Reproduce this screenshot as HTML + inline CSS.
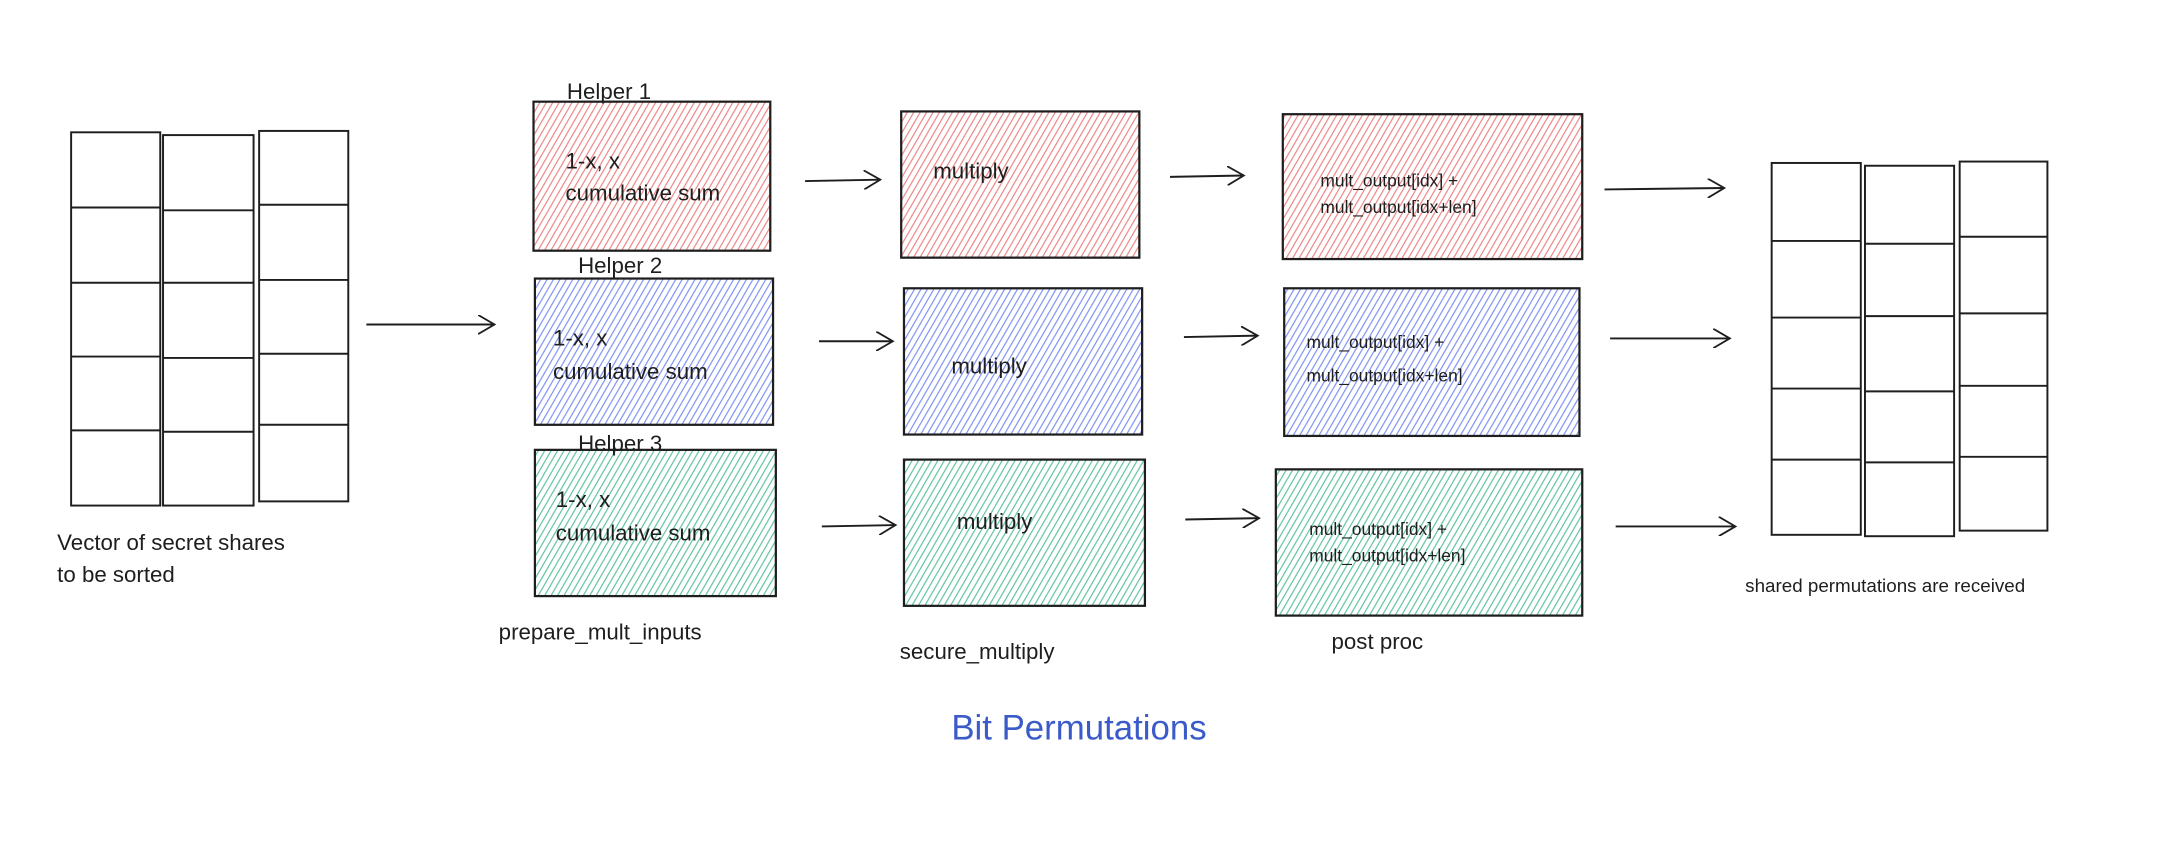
<!DOCTYPE html>
<html><head><meta charset="utf-8"><style>
html,body{margin:0;padding:0;background:#fff;}
svg{display:block}
text{font-family:"Liberation Sans",sans-serif;fill:#1e1e1e}
</style></head><body>
<svg width="2184" height="844" viewBox="0 0 1568 606" xmlns="http://www.w3.org/2000/svg">
<defs>
<pattern id="hr" width="4" height="4" patternUnits="userSpaceOnUse" patternTransform="rotate(30)"><line x1="0" y1="0" x2="0" y2="4" stroke="#ec8585" stroke-width="1.7"/></pattern>
<pattern id="hb" width="4" height="4" patternUnits="userSpaceOnUse" patternTransform="rotate(30)"><line x1="0" y1="0" x2="0" y2="4" stroke="#7d91f2" stroke-width="1.7"/></pattern>
<pattern id="hg" width="4" height="4" patternUnits="userSpaceOnUse" patternTransform="rotate(30)"><line x1="0" y1="0" x2="0" y2="4" stroke="#5fc39d" stroke-width="1.7"/></pattern>
<marker id="ah" markerWidth="14" markerHeight="14" refX="12" refY="7" orient="auto" markerUnits="userSpaceOnUse"><path d="M0,0 L12,7 L0,14" fill="none" stroke="#1e1e1e" stroke-width="1.3"/></marker>
</defs>
<g fill="none" stroke="#1e1e1e" stroke-width="1.4">
<rect x="51" y="95" width="64" height="268"/><rect x="117" y="97" width="65" height="266"/><rect x="186" y="94" width="64" height="266"/>
<path d="M51 149H115M51 203H115M51 256H115M51 309H115M117 151H182M117 203H182M117 257H182M117 310H182M186 147H250M186 201H250M186 254H250M186 305H250"/>
<rect x="1272" y="117" width="64" height="267"/><rect x="1339" y="119" width="64" height="266"/><rect x="1407" y="116" width="63" height="265"/>
<path d="M1272 173H1336M1272 228H1336M1272 279H1336M1272 330H1336M1339 175H1403M1339 227H1403M1339 281H1403M1339 332H1403M1407 170H1470M1407 225H1470M1407 277H1470M1407 328H1470"/>
</g>
<g stroke="#1e1e1e" stroke-width="1.6">
<rect x="383" y="73" width="170" height="107" fill="url(#hr)"/>
<rect x="384" y="200" width="171" height="105" fill="url(#hb)"/>
<rect x="384" y="323" width="173" height="105" fill="url(#hg)"/>
<rect x="647" y="80" width="171" height="105" fill="url(#hr)"/>
<rect x="649" y="207" width="171" height="105" fill="url(#hb)"/>
<rect x="649" y="330" width="173" height="105" fill="url(#hg)"/>
<rect x="921" y="82" width="215" height="104" fill="url(#hr)"/>
<rect x="922" y="207" width="212" height="106" fill="url(#hb)"/>
<rect x="916" y="337" width="220" height="105" fill="url(#hg)"/>
</g>
<g stroke="#1e1e1e" stroke-width="1.4" fill="none" marker-end="url(#ah)">
<line x1="263" y1="233" x2="355" y2="233"/>
<line x1="578" y1="130" x2="632" y2="129"/>
<line x1="588" y1="245" x2="641" y2="245"/>
<line x1="590" y1="378" x2="643" y2="377"/>
<line x1="840" y1="127" x2="893" y2="126"/>
<line x1="850" y1="242" x2="903" y2="241"/>
<line x1="851" y1="373" x2="904" y2="372"/>
<line x1="1152" y1="136" x2="1238" y2="135"/>
<line x1="1156" y1="243" x2="1242" y2="243"/>
<line x1="1160" y1="378" x2="1246" y2="378"/>
</g>
<g font-size="16">
<text x="407" y="71">Helper 1</text>
<text x="415" y="196">Helper 2</text>
<text x="415" y="324">Helper 3</text>
<text x="406" y="121">1-x, x</text><text x="406" y="144">cumulative sum</text>
<text x="397" y="248">1-x, x</text><text x="397" y="272">cumulative sum</text>
<text x="399" y="364">1-x, x</text><text x="399" y="388">cumulative sum</text>
<text x="670" y="128">multiply</text>
<text x="683" y="268">multiply</text>
<text x="687" y="380">multiply</text>
<text x="41" y="395">Vector of secret shares</text>
<text x="41" y="418">to be sorted</text>
<text x="358" y="459">prepare_mult_inputs</text>
<text x="646" y="473">secure_multiply</text>
<text x="956" y="466">post proc</text>
</g>
<g font-size="12.5">
<text x="948" y="134">mult_output[idx] +</text><text x="948" y="153">mult_output[idx+len]</text>
<text x="938" y="250">mult_output[idx] +</text><text x="938" y="274">mult_output[idx+len]</text>
<text x="940" y="384">mult_output[idx] +</text><text x="940" y="403">mult_output[idx+len]</text>
<text x="1253" y="425" font-size="13.5">shared permutations are received</text>
</g>
<text x="683" y="531" font-size="25" style="fill:#3b5bc8">Bit Permutations</text>
</svg>
</body></html>
